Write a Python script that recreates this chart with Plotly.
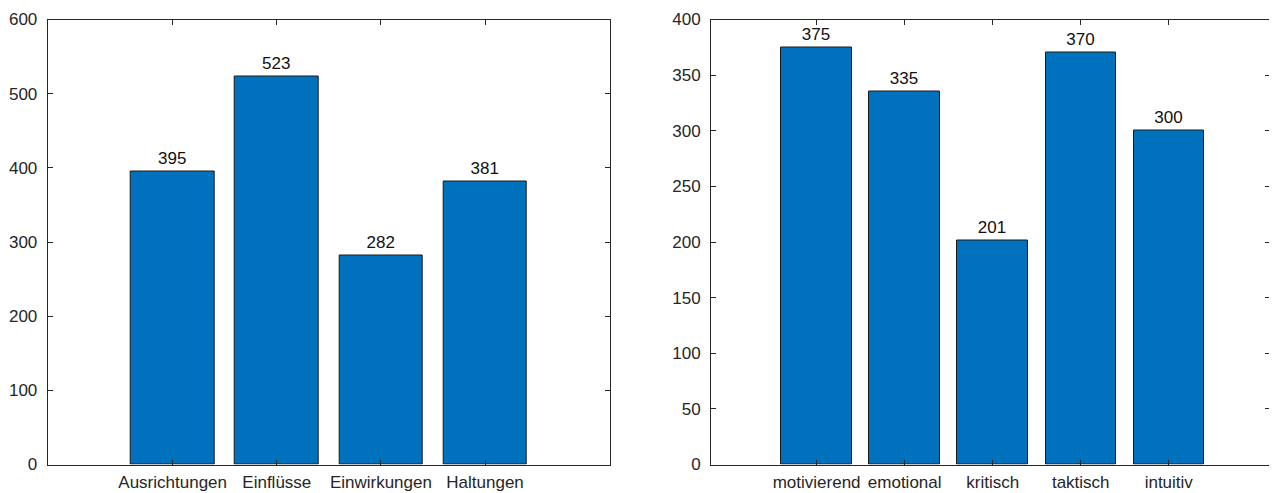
import plotly.graph_objects as go

# Data
left_categories = ["Ausrichtungen", "Einflüsse", "Einwirkungen", "Haltungen"]
left_values = [395, 523, 282, 381]
right_categories = ["motivierend", "emotional", "kritisch", "taktisch", "intuitiv"]
right_values = [375, 335, 201, 370, 300]
left_yticks = [0, 100, 200, 300, 400, 500, 600]
right_yticks = [0, 50, 100, 150, 200, 250, 300, 350, 400]

BAR = "#0072BD"
INK = "#262626"
FONT = dict(family="Arial, 'Liberation Sans', sans-serif", size=17, color=INK)

left_x = list(range(1, len(left_categories) + 1))
right_x = list(range(1, len(right_categories) + 1))

fig = go.Figure()
fig.add_trace(go.Bar(
    x=left_x, y=left_values, width=0.8,
    marker=dict(color=BAR, line=dict(color="#1a1a1a", width=1)),
    text=[str(v) for v in left_values], textposition="outside",
    textfont=dict(family=FONT["family"], size=17, color="#111111"),
    cliponaxis=False, xaxis="x", yaxis="y", showlegend=False,
))
fig.add_trace(go.Bar(
    x=right_x, y=right_values, width=0.8,
    marker=dict(color=BAR, line=dict(color="#1a1a1a", width=1)),
    text=[str(v) for v in right_values], textposition="outside",
    textfont=dict(family=FONT["family"], size=17, color="#111111"),
    cliponaxis=False, xaxis="x2", yaxis="y2", showlegend=False,
))

ax_common = dict(
    showline=True, linecolor=INK, linewidth=1, mirror="ticks",
    ticks="inside", ticklen=5, tickcolor=INK, tickwidth=1,
    showgrid=False, zeroline=False, tickfont=FONT, automargin=False,
)

W, H = 1277, 493
OFF = 8  # page body margin
def xd(a, b):
    return [(a - OFF) / W, (b - OFF) / W]
ydom = [(H - (464.5 - OFF)) / H, (H - (19.5 - OFF)) / H]

fig.update_layout(
    width=W, height=H,
    margin=dict(l=0, r=0, t=0, b=0),
    paper_bgcolor="white", plot_bgcolor="white",
    font=FONT,
    bargap=0,
    xaxis=dict(domain=xd(47.7, 610), range=[-0.2, 5.2],
               tickvals=left_x, ticktext=left_categories, anchor="y",
               ticklabelstandoff=2, **ax_common),
    yaxis=dict(domain=ydom, range=[0, 600], tickvals=left_yticks,
               anchor="x", ticklabelstandoff=6, **ax_common),
    xaxis2=dict(domain=xd(711, 1270), range=[-0.2, 6.15],
                tickvals=right_x, ticktext=right_categories, anchor="y2",
                ticklabelstandoff=2, **ax_common),
    yaxis2=dict(domain=ydom, range=[0, 400], tickvals=right_yticks,
                anchor="x2", ticklabelstandoff=6, **ax_common),
)

fig.write_html("out.html")
